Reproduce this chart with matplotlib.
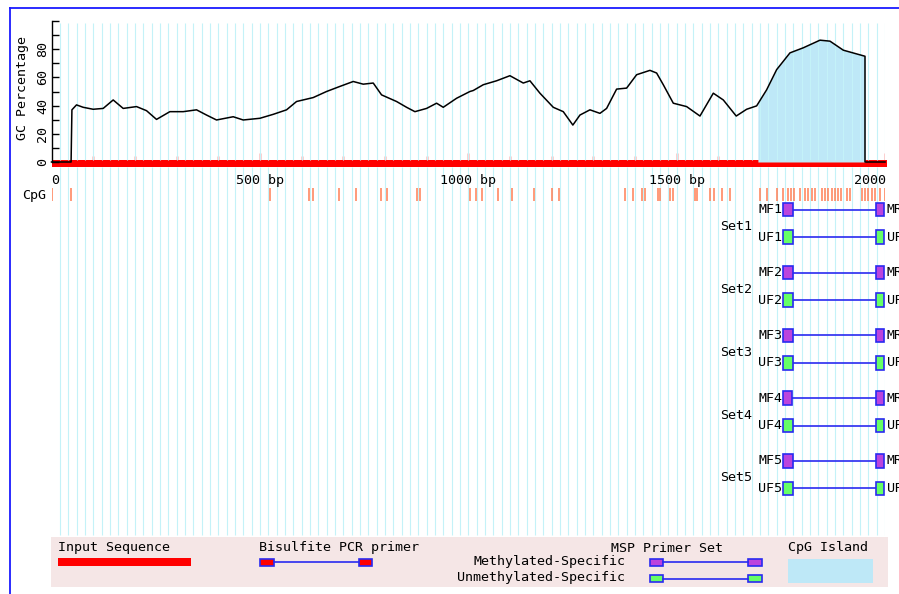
import numpy as np
import matplotlib
matplotlib.use("Agg")
import matplotlib.pyplot as plt
from matplotlib.patches import Rectangle
from matplotlib.lines import Line2D

# ---------------- data ----------------
seq_len = 2000
gc_pos = [0, 47, 48, 49, 60, 76, 100, 124, 148, 172, 204, 228, 252, 284, 316, 348, 372, 396,
          436, 460, 500, 532, 564, 588, 628, 660, 692, 724, 748, 772, 792, 828, 852, 872, 900,
          924, 940, 972, 1004, 1012, 1036, 1068, 1100, 1132, 1148, 1172, 1204, 1228, 1251,
          1268, 1292, 1316, 1332, 1356, 1380, 1404, 1436, 1452, 1468, 1492, 1524, 1556, 1588,
          1612, 1643, 1668, 1692, 1716, 1740, 1772, 1804, 1844, 1868, 1900, 1952, 1952, 2000]
gc_val = [0, 0, 19, 37, 40.5, 38.8, 37.4, 38, 44, 38, 39.3, 36.4, 30.2, 35.7, 35.7, 37, 33.3,
          29.8, 32.1, 29.8, 31, 33.8, 37, 42.9, 45.7, 50, 53.6, 57.1, 55.2, 56, 47.6, 42.9, 38.8,
          35.7, 38, 41.7, 38.8, 45.2, 50, 50.7, 54.8, 57.6, 61.2, 56, 57.6, 48.8, 38.8, 35.7,
          26.2, 33.3, 37, 34.5, 38, 51.7, 52.4, 61.9, 65, 63.1, 54.8, 41.7, 39.3, 32.6, 48.8,
          44, 32.6, 37.4, 39.8, 51.2, 65.5, 77.4, 81, 86.4, 85.7, 79.3, 75, 0, 0]
island_start, island_end = 1695, 1952

cpg_sites = [1, 46, 524, 619, 627, 691, 731, 791, 804, 878, 884, 1004, 1019, 1034, 1072,
             1104, 1158, 1202, 1218, 1376, 1396, 1416, 1424, 1456, 1460, 1484, 1491, 1543,
             1548, 1580, 1590, 1608, 1628, 1699, 1716, 1740, 1755, 1768, 1774, 1782, 1796,
             1808, 1816, 1824, 1832, 1848, 1856, 1864, 1872, 1880, 1888, 1894, 1908, 1915,
             1944, 1952, 1960, 1968, 1976, 1988, 2000]

set_names = ["Set1", "Set2", "Set3", "Set4", "Set5"]
mf_start = [1756, 1756, 1756, 1756, 1756]
mf_end = [1780, 1780, 1780, 1776, 1780]
mr_start = [1978, 1978, 1978, 1978, 1978]
mr_end = [1998, 1998, 1998, 1998, 1998]
uf_start = [1756, 1756, 1756, 1756, 1756]
uf_end = [1780, 1780, 1780, 1780, 1780]
ur_start = [1978, 1978, 1978, 1978, 1978]
ur_end = [1998, 1998, 1998, 1998, 1998]

tick_pos = [0, 500, 1000, 1500, 2000]
tick_labels = ["0", "500 bp", "1000 bp", "1500 bp", "2000"]

# ---------------- style ----------------
FONT = "DejaVu Sans Mono"
FS = 9.6
plt.rcParams['font.family'] = [FONT]
GRID = '#c4f2f8'
ISLAND = '#bee8f7'
RED = '#ff0000'
CPG = '#ff7f55'
BLUE = '#2a2af0'
PURPLE = '#bb44dd'
GREEN = '#66ff66'

W, H = 899, 594
fig = plt.figure(figsize=(W / 100, H / 100), dpi=100)
fig.patch.set_facecolor('white')

x0, x1 = 51.5, 885.0  # pixel x of bp 0 and bp 2000


def fig_rect(left, top, right, bottom):
    return [left / W, 1 - bottom / H, (right - left) / W, (bottom - top) / H]


# ---------------- GC panel ----------------
ax = fig.add_axes(fig_rect(x0, 21, x1, 162))
ax.set_zorder(2)
ax.patch.set_visible(False)
ax.set_xlim(0, seq_len)
ax.set_ylim(0, 100)
for s in ['top', 'right', 'bottom']:
    ax.spines[s].set_visible(False)
ax.spines['left'].set_linewidth(1.0)
ax.set_xticks([])
ax.set_yticks(np.arange(0, 101, 10))
ax.set_yticklabels([str(v) if v % 20 == 0 and v < 100 else '' for v in range(0, 101, 10)],
                   rotation=90, va='center', fontsize=FS)
ax.tick_params(axis='y', direction='in', length=5, width=1.0, pad=1.8)

gp = np.array(gc_pos, dtype=float)
gv = np.array(gc_val, dtype=float)
mask = (gp >= island_start) & (gp <= island_end)
fx = np.concatenate([[island_start], gp[mask & (gv > 0)]])
fy = np.concatenate([[np.interp(island_start, gp[:-2], gv[:-2])], gv[mask & (gv > 0)]])
ax.fill_between(fx, 0, fy, color=ISLAND, lw=0, zorder=1)
ax.vlines(np.arange(20, seq_len + 1, 20), 1.5, 98.5, color=GRID, lw=0.8, zorder=1.5)
ax.plot(gp, gv, color='black', lw=1.1, zorder=3, clip_on=False)
ax.text((23 - x0) / (x1 - x0), (162 - 88) / 141, "GC Percentage", rotation=90,
        ha='center', va='center', fontsize=FS, transform=ax.transAxes)

# ---------------- track panel (y in pixel rows from 150) ----------------
axb = fig.add_axes(fig_rect(x0, 150, x1, 536))
axb.set_zorder(1)
axb.patch.set_visible(False)
axb.set_xlim(0, seq_len)
axb.set_ylim(386, 0)
axb.axis('off')

axb.vlines(np.arange(20, seq_len + 1, 20), 16.5, 385, color=GRID, lw=0.8, zorder=0)
# sequence bar
axb.add_patch(Rectangle((0, 10), 2005, 6.5, color=RED, lw=0, zorder=2, clip_on=False))
minor = [p for p in range(100, seq_len + 1, 100) if p % 500 != 0]
major = [p for p in range(500, seq_len + 1, 500)]
axb.vlines(minor, 6, 10.5, color=RED, lw=1.0, zorder=2)
axb.vlines(major, 2.5, 10.5, color=RED, lw=1.0, zorder=2)
for p, lab in zip(tick_pos, tick_labels):
    ha = 'left' if p == 0 else ('right' if p == seq_len else 'center')
    xp = p + 3 if p == seq_len else p
    axb.text(xp, 30.5, lab, ha=ha, va='center', fontsize=FS, clip_on=False)

# CpG sites
axb.vlines(cpg_sites, 38, 51, color=CPG, lw=1.1, zorder=2)
axb.text(-12, 45, "CpG", ha='right', va='center', fontsize=FS, clip_on=False)


def primer(y, s1, e1, s2, e2, fc, h=13.5):
    axb.plot([e1, s2], [y, y], color=BLUE, lw=1.2, zorder=3, clip_on=False)
    for s, e in ((s1, e1), (s2, e2)):
        axb.add_patch(Rectangle((s, y - h / 2), e - s, h, facecolor=fc, edgecolor=BLUE,
                                lw=1.2, zorder=4, clip_on=False))


for i, name in enumerate(set_names):
    ym = 59.7 + 62.8 * i
    yu = ym + 27.5
    primer(ym, mf_start[i], mf_end[i], mr_start[i], mr_end[i], PURPLE)
    primer(yu, uf_start[i], uf_end[i], ur_start[i], ur_end[i], GREEN)
    n = i + 1
    axb.text(mf_start[i] - 2, ym, f"MF{n}", ha='right', va='center', fontsize=FS)
    axb.text(uf_start[i] - 2, yu, f"UF{n}", ha='right', va='center', fontsize=FS)
    axb.text(mr_end[i] + 6, ym, f"MR{n}", ha='left', va='center', fontsize=FS, clip_on=False)
    axb.text(ur_end[i] + 6, yu, f"UR{n}", ha='left', va='center', fontsize=FS, clip_on=False)
    axb.text(1681, ym + 17, name, ha='right', va='center', fontsize=FS)

# ---------------- legend (pixel coordinates) ----------------
axl = fig.add_axes([0, 0, 1, 1])
axl.set_zorder(3)
axl.patch.set_visible(False)
axl.set_xlim(0, W)
axl.set_ylim(H, 0)
axl.axis('off')
axl.add_patch(Rectangle((50.5, 536.7), 837, 50, facecolor='#f5e6e6', lw=0))
axl.text(58, 548, "Input Sequence", ha='left', va='center', fontsize=FS)
axl.add_patch(Rectangle((58, 558), 133, 8, facecolor=RED, lw=0))
axl.text(259, 548, "Bisulfite PCR primer", ha='left', va='center', fontsize=FS)


def leg_primer(y, xa, xb, xc, xd, fc, h):
    axl.plot([xb, xc], [y, y], color=BLUE, lw=1.2)
    for s, e in ((xa, xb), (xc, xd)):
        axl.add_patch(Rectangle((s, y - h / 2), e - s, h, facecolor=fc, edgecolor=BLUE, lw=1.2))


leg_primer(562.3, 260, 274.3, 359, 371.7, RED, 6.7)
axl.text(723, 548, "MSP Primer Set", ha='right', va='center', fontsize=FS)
axl.text(625.5, 562, "Methylated-Specific", ha='right', va='center', fontsize=FS)
axl.text(625.5, 578, "Unmethylated-Specific", ha='right', va='center', fontsize=FS)
leg_primer(562.3, 650, 663.3, 747.7, 761.7, PURPLE, 6.7)
leg_primer(578.7, 650, 663.3, 747.7, 761.7, GREEN, 7.3)
axl.text(788.3, 548, "CpG Island", ha='left', va='center', fontsize=FS)
axl.add_patch(Rectangle((788.3, 559.3), 85, 24, facecolor=ISLAND, lw=0))

# outer frame
fig.add_artist(Line2D([10 / W, 10 / W], [0, 1 - 7.5 / H], transform=fig.transFigure,
                      color='#1a1aff', lw=1.3))
fig.add_artist(Line2D([10 / W, 1], [1 - 7.5 / H, 1 - 7.5 / H], transform=fig.transFigure,
                      color='#1a1aff', lw=1.3))

fig.savefig("out.png", dpi=100)
